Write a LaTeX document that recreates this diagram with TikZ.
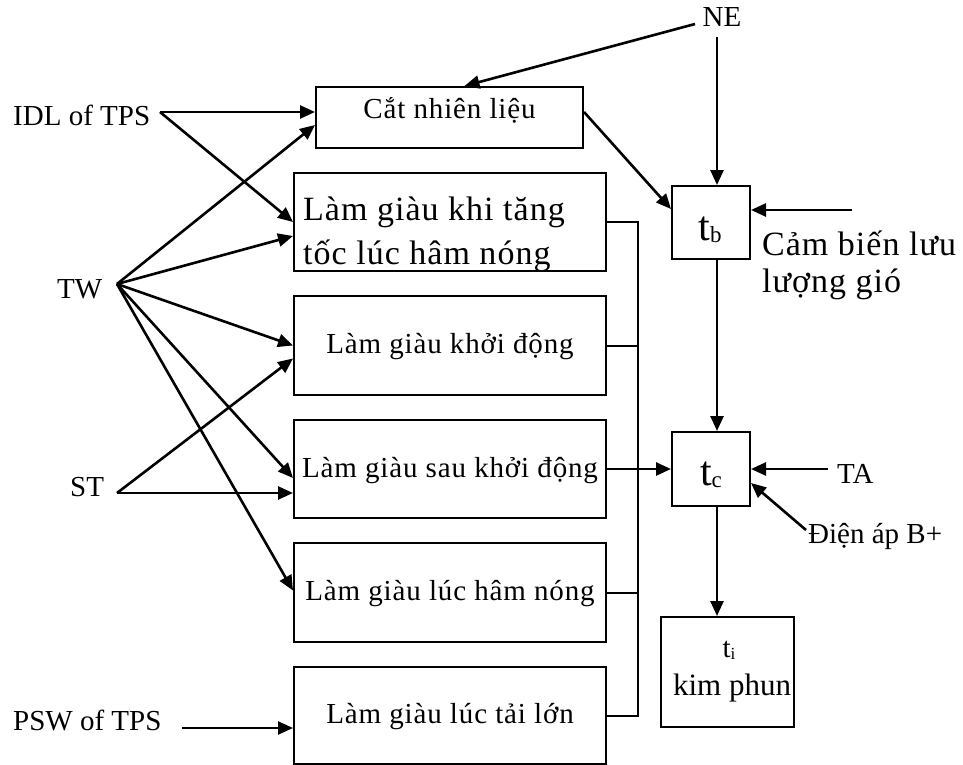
\documentclass[tikz,border=0pt]{standalone}
\usepackage{fontspec}
\setmainfont{Liberation Serif}
\newfontfamily\spfont[LetterSpace=3]{Liberation Serif}
\usetikzlibrary{arrows.meta}
\tikzset{
  box/.style={draw, line width=2pt, inner sep=0pt, font=\spfont\fontsize{29}{34}\selectfont},
  bigtxt/.style={inner sep=0pt, font=\spfont\fontsize{34}{40}\selectfont},
  lbl/.style={inner sep=0pt, font=\fontsize{29}{34}\selectfont},
  arr/.style={line width=2.6pt, -{Triangle[length=15pt,width=13pt]}},
  bus/.style={line width=2pt},
}
\begin{document}
\begin{tikzpicture}[x=1pt,y=-1pt]
\useasboundingbox (0,0) rectangle (963,765);

% boxes
\node[box, minimum width=267pt, minimum height=61pt, text height=15pt, text depth=12pt] (cat) at (449.5,117.5) {Cắt nhiên liệu};
\node[box, minimum width=312pt, minimum height=98pt] (b1) at (450,222) {};
\begin{scope}
  \clip (b1.south west) rectangle (b1.north east);
  \node[bigtxt, anchor=base west] (b1a) at (303,220) {Làm giàu khi tăng};
  \node[bigtxt, anchor=base west] (b1b) at (303,264) {tốc lúc hâm nóng};
\end{scope}
\node[box, minimum width=312pt, minimum height=99pt, text height=22pt, text depth=6pt] (b2) at (450,345.5) {Làm giàu khởi động};
\node[box, minimum width=312pt, minimum height=98pt, text height=22pt, text depth=6pt] (b3) at (450,469) {Làm giàu sau khởi động};
\node[box, minimum width=312pt, minimum height=99pt, text height=22pt, text depth=6pt] (b4) at (450,592.5) {Làm giàu lúc hâm nóng};
\node[box, minimum width=312pt, minimum height=97pt, text height=22pt, text depth=6pt] (b5) at (450,715.5) {Làm giàu lúc tải lớn};

\node[box, minimum width=78pt, minimum height=73pt] (tb) at (711,222.5) {};
\node[inner sep=0pt, anchor=base, font=\fontsize{42}{44}\selectfont] (tbt) at (710,240) {t\raisebox{-2pt}{\fontsize{23}{23}\selectfont b}};
\node[box, minimum width=78pt, minimum height=74pt] (tc) at (711,469) {};
\node[inner sep=0pt, anchor=base, font=\fontsize{42}{44}\selectfont] (tct) at (711,485) {t\raisebox{-2pt}{\fontsize{23}{23}\selectfont c}};
\node[box, minimum width=133pt, minimum height=110pt] (ti) at (727.5,672) {};
\node[inner sep=0pt, anchor=base, font=\fontsize{29}{30}\selectfont] (tit) at (729,657) {t\raisebox{-2pt}{\fontsize{17}{17}\selectfont i}};
\node[inner sep=0pt, anchor=base, font=\fontsize{31}{34}\selectfont] (tik) at (732,695) {kim phun};

% labels
\node[lbl, anchor=base west] (idl) at (13,125) {IDL of TPS};
\node[lbl, anchor=base west] (tw) at (57,298) {TW};
\node[lbl, anchor=base west] (st) at (70,496) {ST};
\node[lbl, anchor=base west] (psw) at (13,730) {PSW of TPS};
\node[lbl, anchor=base] (ne) at (722,27) {NE};
\node[lbl, anchor=base west] (ta) at (837,483) {TA};
\node[lbl, anchor=base west] (dien) at (808,543) {Điện áp B+};
\node[bigtxt, anchor=base west] (cb1) at (762,255) {Cảm biến lưu};
\node[bigtxt, anchor=base west] (cb2) at (762,292) {lượng gió};

% origins of connectors
\coordinate (idlo) at (160,112);
\coordinate (two) at (117,284);
\coordinate (sto) at (117,493);
\coordinate (pswo) at (182,728);
\coordinate (neo1) at (695,24);
\coordinate (neo2) at (717,37);
\coordinate (cbo) at (852,210);
\coordinate (tao) at (828,469);
\coordinate (dieno) at (806,530);
\coordinate (busx) at (638,0);

% connectors
\draw[arr] (idlo) -- ([yshift=5.5pt]cat.west);
\draw[arr] (idlo) -- (b1.west);
\draw[arr] (two) -- ([yshift=-7.5pt]cat.west);
\draw[arr] (two) -- ([yshift=-14pt]b1.west);
\draw[arr] (two) -- (b2.west);
\draw[arr] (two) -- ([yshift=-9pt]b3.west);
\draw[arr] (two) -- ([yshift=2pt]b4.west);
\draw[arr] (sto) -- ([yshift=-13pt]b2.west);
\draw[arr] (sto) -- ([yshift=-24pt]b3.west);
\draw[arr] (pswo) -- ([yshift=-12.5pt]b5.west);
\draw[arr] (neo1) -- ([xshift=15pt]cat.north);
\draw[arr] (neo2) -- ([xshift=6pt]tb.north);
\draw[arr] ([yshift=5.5pt]cat.east) -- ([yshift=13.5pt]tb.west);
\draw[arr] (cbo) -- ([yshift=12.5pt]tb.east);
\draw[arr] ([xshift=6pt]tb.south) -- ([xshift=6pt]tc.north);
\draw[arr] (b3.east) -- (tc.west);
\draw[arr] (tao) -- (tc.east);
\draw[arr] (dieno) -- ([yshift=-14pt]tc.east);
\draw[arr] ([xshift=6pt]tc.south) -- ([xshift=-10.5pt]ti.north);

% bus
\draw[bus] (b1.east) -- (busx |- b1.east) -- (busx |- b5.east) -- (b5.east);
\draw[bus] (b2.east) -- (busx |- b2.east);
\draw[bus] (b4.east) -- (busx |- b4.east);
\end{tikzpicture}
\end{document}
